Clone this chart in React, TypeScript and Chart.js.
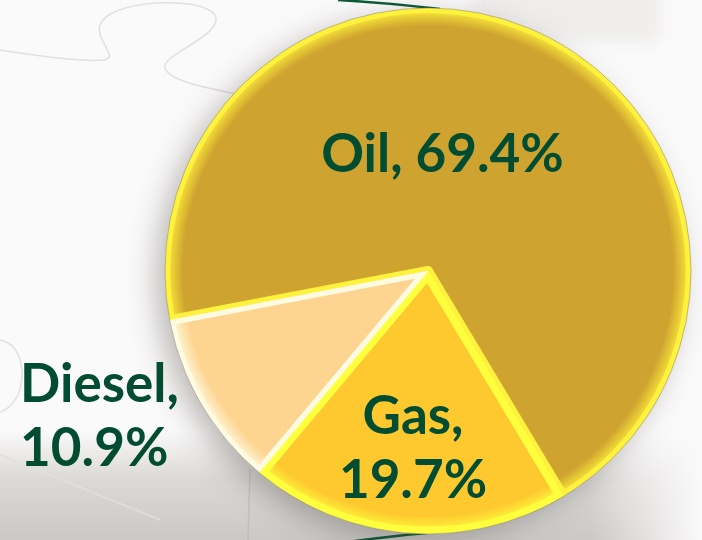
import { useEffect, useRef } from 'react';
import { Chart, registerables } from 'chart.js';

Chart.register(...registerables);

// ---- data ----
const categories = ['Oil', 'Gas', 'Diesel'];
const shares = [69.4, 19.7, 10.9];
const sliceColors = ['#cfa32f', '#fdc92f', '#fdd591'];
const rimColors = ['#fff23c', '#ffff3e', '#fffbe2'];
const labelLines = [
  [`${categories[0]}, ${shares[0].toFixed(1)}%`],
  [`${categories[1]},`, `${shares[1].toFixed(1)}%`],
  [`${categories[2]},`, `${shares[2].toFixed(1)}%`],
];

// label placement relative to pie centre, in units of radius (first baseline)
const labelPlacement = [
  { dx: 0.055, dy: -0.376, align: 'center' as CanvasTextAlign },
  { dx: -0.057, dy: 0.62, align: 'center' as CanvasTextAlign },
  { dx: -1.551, dy: 0.498, align: 'left' as CanvasTextAlign },
];

const TEXT_COLOR = '#024d31';
const LINE_HEIGHT = 64;

function mix(a: string, b: string, t: number) {
  const pa = [1, 3, 5].map((i) => parseInt(a.slice(i, i + 2), 16));
  const pb = [1, 3, 5].map((i) => parseInt(b.slice(i, i + 2), 16));
  const c = pa.map((v, i) => Math.round(v + (pb[i] - v) * t));
  return `rgb(${c[0]},${c[1]},${c[2]})`;
}

const backgroundPlugin = {
  id: 'slideBackground',
  beforeDraw(chart: any) {
    const { ctx, width, height } = chart;
    ctx.save();
    ctx.fillStyle = '#fbfafa';
    ctx.fillRect(0, 0, width, height);

    // top-right light patch
    ctx.save();
    ctx.filter = 'blur(8px)';
    ctx.fillStyle = '#efedec';
    ctx.fillRect(470, -20, 190, 62);
    ctx.restore();

    // bottom grey band
    const g = ctx.createLinearGradient(0, 430, 0, height);
    g.addColorStop(0, 'rgba(205,203,201,0)');
    g.addColorStop(0.45, 'rgba(205,203,201,0.7)');
    g.addColorStop(1, 'rgba(200,198,196,0.95)');
    ctx.fillStyle = g;
    ctx.fillRect(0, 430, width, height - 430);
    const gr = ctx.createLinearGradient(590, 0, width, 0);
    gr.addColorStop(0, 'rgba(251,250,250,0)');
    gr.addColorStop(1, 'rgba(251,250,250,1)');
    ctx.fillStyle = gr;
    ctx.fillRect(590, 430, width - 590, height - 430);

    // puzzle outlines
    ctx.strokeStyle = '#e2dfdd';
    ctx.lineWidth = 1.5;
    ctx.beginPath();
    ctx.moveTo(0, 50);
    ctx.bezierCurveTo(40, 56, 80, 62, 104, 60);
    ctx.bezierCurveTo(120, 58, 95, 40, 100, 25);
    ctx.bezierCurveTo(108, 0, 200, -5, 215, 15);
    ctx.bezierCurveTo(225, 35, 160, 55, 165, 68);
    ctx.bezierCurveTo(170, 82, 210, 88, 240, 95);
    ctx.stroke();
    ctx.beginPath();
    ctx.moveTo(0, 340);
    ctx.bezierCurveTo(25, 345, 25, 380, 18, 395);
    ctx.bezierCurveTo(10, 410, 0, 412, 0, 412);
    ctx.stroke();
    ctx.beginPath();
    ctx.moveTo(0, 455);
    ctx.bezierCurveTo(50, 475, 100, 495, 160, 520);
    ctx.stroke();
    ctx.strokeStyle = 'rgba(180,177,175,0.5)';
    ctx.beginPath();
    ctx.moveTo(250, 470);
    ctx.lineTo(248, 540);
    ctx.stroke();
    ctx.restore();
  },
  beforeDatasetsDraw(chart: any) {
    const { ctx } = chart;
    const arc = chart.getDatasetMeta(0).data[0];
    if (!arc) return;
    const { x, y, outerRadius } = arc.getProps(['x', 'y', 'outerRadius'], true);
    ctx.save();
    // decorative dark green swoosh lines behind the pie
    ctx.strokeStyle = '#0e5a3a';
    ctx.lineWidth = 2.5;
    ctx.beginPath();
    ctx.moveTo(338, 0);
    ctx.quadraticCurveTo(390, 3, 440, 9);
    ctx.stroke();
    ctx.beginPath();
    ctx.moveTo(355, 541);
    ctx.quadraticCurveTo(400, 535, 448, 531);
    ctx.stroke();
    // drop shadow
    ctx.shadowColor = 'rgba(60,55,50,0.35)';
    ctx.shadowBlur = 30;
    ctx.shadowOffsetX = -10;
    ctx.shadowOffsetY = 8;
    ctx.fillStyle = sliceColors[0];
    ctx.beginPath();
    ctx.arc(x, y, outerRadius - 2, 0, Math.PI * 2);
    ctx.fill();
    ctx.restore();
  },
};

const labelPlugin = {
  id: 'sliceLabels',
  afterDatasetsDraw(chart: any) {
    const { ctx } = chart;
    const meta = chart.getDatasetMeta(0);
    ctx.save();
    // thin outer edge
    const a0 = meta.data[0];
    if (a0) {
      const { x, y, outerRadius } = a0.getProps(['x', 'y', 'outerRadius'], true);
      ctx.strokeStyle = 'rgba(130,125,120,0.5)';
      ctx.lineWidth = 1;
      ctx.beginPath();
      ctx.arc(x, y, outerRadius, 0, Math.PI * 2);
      ctx.stroke();
    }
    ctx.fillStyle = TEXT_COLOR;
    ctx.font = 'bold 53px Lato';
    ctx.textBaseline = 'alphabetic';
    meta.data.forEach((arc: any, i: number) => {
      const { x, y, outerRadius } = arc.getProps(['x', 'y', 'outerRadius'], true);
      const p = labelPlacement[i];
      ctx.textAlign = p.align;
      const lx = x + p.dx * outerRadius;
      const ly = y + p.dy * outerRadius;
      labelLines[i].forEach((ln, k) => ctx.fillText(ln, lx, ly + k * LINE_HEIGHT));
    });
    ctx.restore();
  },
};

export default function App() {
  const ref = useRef<HTMLCanvasElement | null>(null);
  useEffect(() => {
    if (!ref.current) return;
    const chart = new Chart(ref.current, {
      type: 'pie',
      data: {
        labels: categories,
        datasets: [
          {
            data: shares,
            backgroundColor: (c: any) => {
              const i = c.dataIndex ?? 0;
              const area = c.chart.chartArea;
              if (!area) return sliceColors[i];
              const cx = (area.left + area.right) / 2;
              const cy = (area.top + area.bottom) / 2;
              const r = Math.min(area.right - area.left, area.bottom - area.top) / 2;
              const g = c.chart.ctx.createRadialGradient(cx, cy, 0, cx, cy, r);
              g.addColorStop(0, sliceColors[i]);
              g.addColorStop((r - 18) / r, sliceColors[i]);
              g.addColorStop((r - 8) / r, mix(sliceColors[i], rimColors[i], 0.55));
              g.addColorStop(1, rimColors[i]);
              return g;
            },
            borderColor: rimColors,
            borderWidth: [5, 7, 5],
            borderAlign: 'inner',
            hoverOffset: 0,
            offset: 0,
          },
        ],
      },
      options: {
        responsive: false,
        animation: false,
        events: [],
        rotation: 259.2,
        layout: { padding: { left: 165, right: 11, top: 8, bottom: 6 } },
        plugins: {
          legend: { display: false },
          tooltip: { enabled: false },
        },
      },
      plugins: [backgroundPlugin, labelPlugin],
    });
    return () => chart.destroy();
  }, []);

  return (
    <div style={{ position: 'fixed', left: 0, top: 0, width: 702, height: 540, overflow: 'hidden' }}>
      <canvas ref={ref} width={702} height={540} style={{ display: 'block' }} />
    </div>
  );
}
